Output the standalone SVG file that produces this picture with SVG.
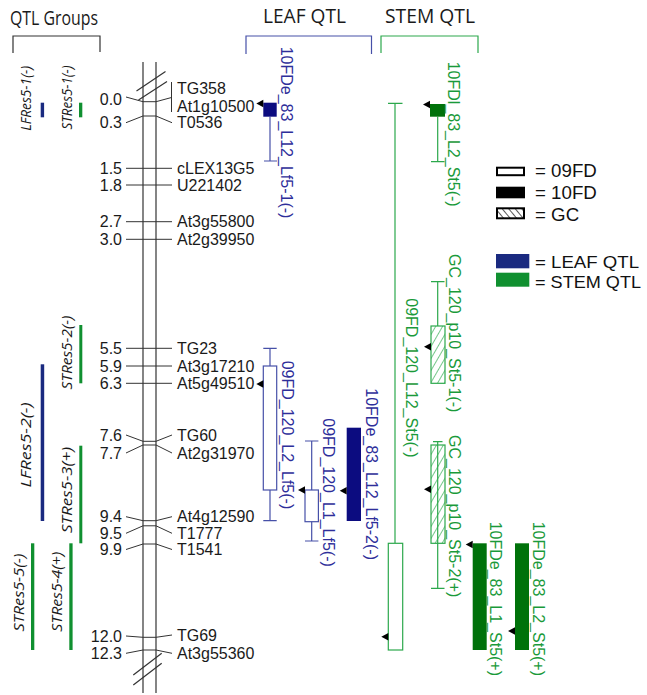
<svg xmlns="http://www.w3.org/2000/svg" width="647" height="695" viewBox="0 0 647 695">
<style>
.chr{stroke:#333;stroke-width:1.2;fill:none}
.tick{stroke:#333;stroke-width:1;fill:none}
.num{font-family:"Liberation Sans",Arial,sans-serif;font-size:16px;fill:#1a1a1a;text-anchor:end}
.mk{font-family:"Liberation Sans",Arial,sans-serif;font-size:16px;fill:#1a1a1a}
.title{font-family:"Open Sans",sans-serif;fill:#1a1a1a}
.grp{font-family:"Open Sans",sans-serif;font-style:italic;font-size:14px;fill:#1a1a1a;text-anchor:middle}
.lf{stroke:#4650a8;stroke-width:1.2;fill:none}
.lfb{stroke:#4650a8;stroke-width:1.2;fill:#fff}
.lff{fill:#0c0c80}
.lft{font-family:"Liberation Sans",Arial,sans-serif;font-size:16px;fill:#2e2e9a}
.st{stroke:#2ca84c;stroke-width:1.2;fill:none}
.stb{stroke:#2ca84c;stroke-width:1.2;fill:#fff}
.sth{stroke:#2ca84c;stroke-width:1.2;fill:url(#hatchG)}
.stf{fill:#00720a}
.stt{font-family:"Liberation Sans",Arial,sans-serif;font-size:16px;fill:#1a9a3a}
.lg{font-family:"Liberation Sans",Arial,sans-serif;font-size:18.7px;fill:#111}
.lg2{font-family:"Liberation Sans",Arial,sans-serif;font-size:17px;fill:#111}
.gbar{fill:#109030}
.bbar{fill:#1a2a80}
</style>
<defs>
<pattern id="hatchG" patternUnits="userSpaceOnUse" width="6" height="6" patternTransform="rotate(30)">
<line x1="0" y1="0" x2="0" y2="6" stroke="#2ca84c" stroke-width="1.3"/>
</pattern>
<pattern id="hatchK" patternUnits="userSpaceOnUse" width="5" height="5" patternTransform="rotate(-40)">
<line x1="0" y1="0" x2="0" y2="5" stroke="#000" stroke-width="1.3"/>
</pattern>
<path id="arr" d="M0,0 L7,-3.8 L7,3.8 Z" fill="#000"/>
</defs>

<g id="titles">
<text class="title" x="10" y="25" font-size="19.5" textLength="88" lengthAdjust="spacingAndGlyphs">QTL Groups</text>
<text class="title" x="263" y="23" font-size="20.5" textLength="83" lengthAdjust="spacingAndGlyphs">LEAF QTL</text>
<text class="title" x="385" y="23" font-size="20.5" textLength="90" lengthAdjust="spacingAndGlyphs">STEM QTL</text>
<path d="M13,53 V36 H100 V52" stroke="#333" stroke-width="1.2" fill="none"/>
<path class="lf" d="M246,54 V36 H371.5 V54"/>
<path class="st" d="M381,53 V36 H478 V53"/>
</g>

<g id="qtl-groups">
<g id="LFRes5-1"><rect class="bbar" x="40.7" y="102.7" width="3.4" height="14.6"/><text class="grp" textLength="65" lengthAdjust="spacingAndGlyphs" transform="translate(30.5,98.3) rotate(-90)">LFRes5-1(-)</text></g>
<g id="STRes5-1"><rect class="gbar" x="79" y="102.7" width="3.3" height="14.6"/><text class="grp" textLength="64" lengthAdjust="spacingAndGlyphs" transform="translate(72,97.5) rotate(-90)">STRes5-1(-)</text></g>
<g id="STRes5-2"><rect class="gbar" x="79.3" y="325" width="3" height="58.3"/><text class="grp" textLength="74" lengthAdjust="spacingAndGlyphs" transform="translate(72,352.5) rotate(-90)">STRes5-2(-)</text></g>
<g id="LFRes5-2"><rect class="bbar" x="40.7" y="364.3" width="3.5" height="156.7"/><text class="grp" textLength="85" lengthAdjust="spacingAndGlyphs" transform="translate(30.5,445) rotate(-90)">LFRes5-2(-)</text></g>
<g id="STRes5-3"><rect class="gbar" x="79.3" y="445.7" width="3" height="97.6"/><text class="grp" textLength="86" lengthAdjust="spacingAndGlyphs" transform="translate(72,490) rotate(-90)">STRes5-3(+)</text></g>
<g id="STRes5-5"><rect class="gbar" x="31" y="543.3" width="3.3" height="106.7"/><text class="grp" textLength="78" lengthAdjust="spacingAndGlyphs" transform="translate(24,592.5) rotate(-90)">STRes5-5(-)</text></g>
<g id="STRes5-4"><rect class="gbar" x="69.3" y="543.3" width="3.3" height="106.7"/><text class="grp" textLength="80" lengthAdjust="spacingAndGlyphs" transform="translate(62,591.7) rotate(-90)">STRes5-4(+)</text></g>
</g>

<g id="chromosome">
<line class="chr" x1="143" y1="62" x2="143" y2="693"/>
<line class="chr" x1="156" y1="62" x2="156" y2="693"/>
<line class="chr" x1="136.5" y1="91" x2="165.5" y2="71.5"/>
<line class="chr" x1="138.5" y1="100" x2="167" y2="81.5"/>
<line class="chr" x1="133.3" y1="675" x2="161.7" y2="653.3"/>
<line class="chr" x1="133.3" y1="685" x2="161.7" y2="663.3"/>
</g>

<g id="markers">
<g id="m-0.0"><path class="tick" d="M126,97 L143,101.7 H156 L171.5,97.5 M171.5,82 V112"/><text class="num" x="122" y="104.7">0.0</text><text class="mk" x="177" y="94">TG358</text><text class="mk" x="177" y="112.4">At1g10500</text></g>
<g id="m-0.3"><path class="tick" d="M126,122.7 L143,116 H156 L172,122.7"/><text class="num" x="122" y="128.4">0.3</text><text class="mk" x="177" y="128.4">T0536</text></g>
<g id="m-1.5"><path class="tick" d="M126,168.3 H172"/><text class="num" x="122" y="174">1.5</text><text class="mk" x="177" y="174">cLEX13G5</text></g>
<g id="m-1.8"><path class="tick" d="M126,185 H172"/><text class="num" x="122" y="190.7">1.8</text><text class="mk" x="177" y="190.7">U221402</text></g>
<g id="m-2.7"><path class="tick" d="M126,221.7 H172"/><text class="num" x="122" y="227.4">2.7</text><text class="mk" x="177" y="227.4">At3g55800</text></g>
<g id="m-3.0"><path class="tick" d="M126,239.3 H172"/><text class="num" x="122" y="245">3.0</text><text class="mk" x="177" y="245">At2g39950</text></g>
<g id="m-5.5"><path class="tick" d="M126,348.3 H172"/><text class="num" x="122" y="354">5.5</text><text class="mk" x="177" y="354">TG23</text></g>
<g id="m-5.9"><path class="tick" d="M126,366 H172"/><text class="num" x="122" y="371.7">5.9</text><text class="mk" x="177" y="371.7">At3g17210</text></g>
<g id="m-6.3"><path class="tick" d="M126,383.3 H172"/><text class="num" x="122" y="389">6.3</text><text class="mk" x="177" y="389">At5g49510</text></g>
<g id="m-7.6"><path class="tick" d="M126,435 L143,441.3 H156 L172,435"/><text class="num" x="122" y="440.7">7.6</text><text class="mk" x="177" y="440.7">TG60</text></g>
<g id="m-7.7"><path class="tick" d="M126,453 L143,445 H156 L172,453"/><text class="num" x="122" y="458.7">7.7</text><text class="mk" x="177" y="458.7">At2g31970</text></g>
<g id="m-9.4"><path class="tick" d="M126,516.7 L143,520.7 H156 L172,516.7"/><text class="num" x="122" y="522.4">9.4</text><text class="mk" x="177" y="522.4">At4g12590</text></g>
<g id="m-9.5"><path class="tick" d="M126,533.3 L143,525.8 H156 L172,533.3"/><text class="num" x="122" y="539">9.5</text><text class="mk" x="177" y="539">T1777</text></g>
<g id="m-9.9"><path class="tick" d="M126,549.5 L143,544 H156 L172,549.5"/><text class="num" x="122" y="555.2">9.9</text><text class="mk" x="177" y="555.2">T1541</text></g>
<g id="m-12.0"><path class="tick" d="M126,636 L143,637.3 H156 L172,635"/><text class="num" x="122" y="641.7">12.0</text><text class="mk" x="177" y="640.7">TG69</text></g>
<g id="m-12.3"><path class="tick" d="M126,653.3 L143,650 H156 L172,653.3"/><text class="num" x="122" y="659">12.3</text><text class="mk" x="177" y="659">At3g55360</text></g>
</g>

<g id="leaf-qtl">
<g id="q-10FDe_83_L12_Lf5-1"><path class="lf" d="M270,116.7 V161 M264,161 H277"/><rect class="lff" x="263.3" y="102.7" width="13.4" height="14"/><use href="#arr" x="256.3" y="103.5"/><text class="lft" transform="translate(281,46.7) rotate(90)">10FDe_83_L12_Lf5-1(-)</text></g>
<g id="q-09FD_120_L2_Lf5"><path class="lf" d="M270,348.3 V520.7 M263.3,348.3 H276.7 M263.3,520.7 H276.7"/><rect class="lfb" x="263.3" y="366" width="13.4" height="124"/><use href="#arr" x="256.3" y="384"/><text class="lft" transform="translate(281.7,360.7) rotate(90)">09FD_120_L2_Lf5(-)</text></g>
<g id="q-09FD_120_L1_Lf5"><path class="lf" d="M311.7,441 V541 M305,441 H318.4 M305,541 H318.4"/><rect class="lfb" x="305" y="490" width="13.4" height="31.7"/><use href="#arr" x="298" y="490"/><text class="lft" transform="translate(323.3,418.3) rotate(90)">09FD_120_L1_Lf5(-)</text></g>
<g id="q-10FDe_83_L12_Lf5-2"><rect class="lff" x="346.7" y="427.7" width="14.3" height="93.3"/><use href="#arr" x="339.7" y="490.7"/><text class="lft" transform="translate(366,388.3) rotate(90)">10FDe_83_L12_Lf5-2(-)</text></g>
</g>

<g id="stem-qtl">
<g id="q-09FD_120_L12_St5"><path class="st" d="M395,103.3 V543.3 M388,103.3 H402.5"/><rect class="stb" x="388.3" y="543.3" width="14.4" height="106.7"/><use href="#arr" x="381.3" y="636.7"/><text class="stt" transform="translate(406,298.3) rotate(90)">09FD_120_L12_St5(-)</text></g>
<g id="q-10FDl_83_L2_St5"><path class="st" d="M437.7,116.7 V161.7 M431,161.7 H444.5"/><rect class="stf" x="430" y="104" width="15" height="12.7"/><use href="#arr" x="423" y="104.5"/><text class="stt" transform="translate(448.3,61.7) rotate(90)">10FDl_83_L2_St5(-)</text></g>
<g id="q-GC_120_p10_St5-1"><path class="st" d="M437.7,281.7 V326 M431,281.7 H444.5"/><rect class="sth" x="431" y="326" width="14" height="57.3"/><use href="#arr" x="424" y="346.7"/><text class="stt" transform="translate(449.3,254) rotate(90)">GC_120_p10_St5-1(-)</text></g>
<g id="q-GC_120_p10_St5-2"><path class="st" d="M437.7,441.7 V588.3 M433,441.7 H442.5 M431,588.3 H444.5"/><rect class="sth" x="431" y="445" width="14" height="98.3"/><use href="#arr" x="424" y="489.3"/><text class="stt" transform="translate(449.3,435) rotate(90)">GC_120_p10_St5-2(+)</text></g>
<g id="q-10FDe_83_L1_St5"><rect class="stf" x="472.7" y="543.3" width="14" height="106.7"/><use href="#arr" x="465.7" y="544.5"/><text class="stt" transform="translate(490,521.7) rotate(90)">10FDe_83_L1_St5(+)</text></g>
<g id="q-10FDe_83_L2_St5"><rect class="stf" x="515" y="543.3" width="14" height="106.7"/><use href="#arr" x="508" y="631"/><text class="stt" transform="translate(532.7,521.7) rotate(90)">10FDe_83_L2_St5(+)</text></g>
</g>

<g id="legend">
<rect x="497" y="167.7" width="27" height="7.5" fill="#fff" stroke="#000" stroke-width="2"/>
<text class="lg" x="535" y="176.5">= 09FD</text>
<rect x="496" y="186.7" width="29" height="11.6" fill="#000"/>
<text class="lg" x="535" y="198.5">= 10FD</text>
<rect x="497" y="208.3" width="27" height="10" fill="url(#hatchK)" stroke="#000" stroke-width="2"/>
<text class="lg" x="535" y="220.5">= GC</text>
<rect x="496" y="254" width="33.3" height="14.3" fill="#1a2a80"/>
<text class="lg2" x="535" y="268.3" textLength="104" lengthAdjust="spacingAndGlyphs">= LEAF QTL</text>
<rect x="496" y="272.7" width="33.3" height="14" fill="#109030"/>
<text class="lg2" x="535" y="288.3" textLength="106" lengthAdjust="spacingAndGlyphs">= STEM QTL</text>
</g>
</svg>
